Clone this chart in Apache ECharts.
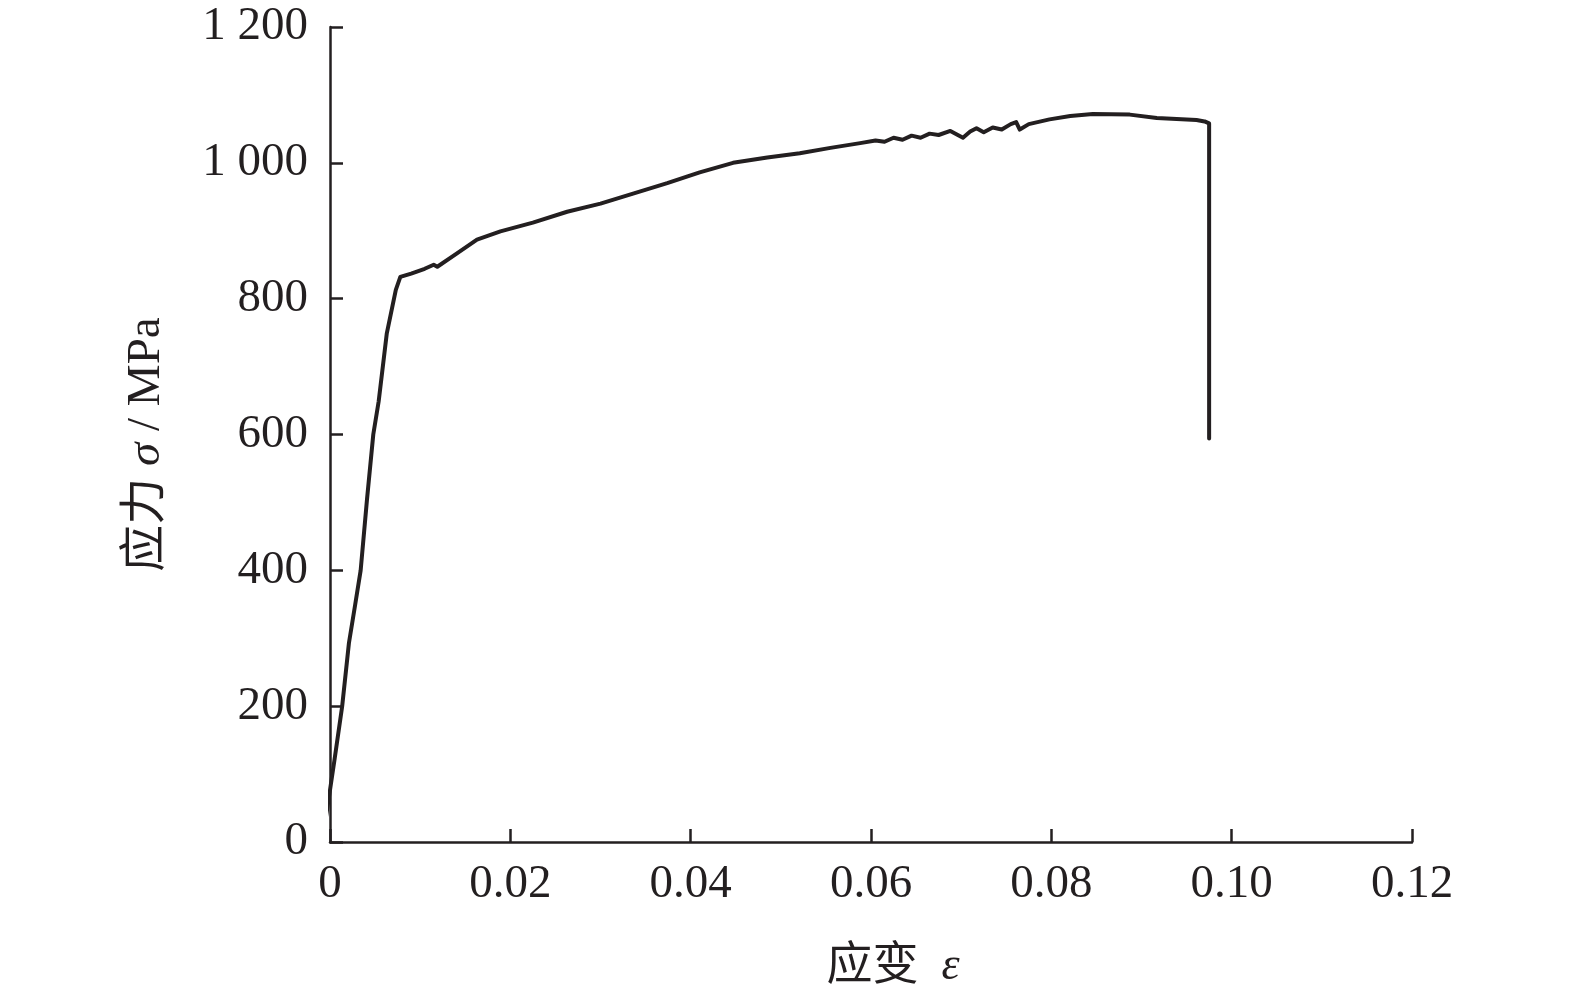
<!DOCTYPE html>
<html>
<head>
<meta charset="utf-8">
<script src="https://cdn.jsdelivr.net/npm/echarts@6/dist/echarts.min.js"></script>
<style>html,body{margin:0;padding:0;background:#fff;}#c{width:1575px;height:995px;}</style>
</head>
<body>
<div id="c"></div>
<script>
var strain = [-0.0006, -0.0005, 0.0005, 0.00135, 0.0021, 0.0028, 0.0034, 0.0041, 0.0048, 0.0054, 0.0063, 0.0073, 0.0078, 0.0090, 0.0105, 0.0115, 0.0119, 0.0140, 0.0163, 0.0189, 0.0225, 0.0263, 0.0300, 0.0337, 0.0374, 0.0410, 0.0447, 0.0485, 0.0521, 0.0555, 0.0588, 0.0605, 0.0615, 0.0625, 0.0635, 0.0645, 0.0655, 0.0665, 0.0675, 0.0688, 0.0702, 0.0710, 0.0717, 0.0725, 0.0735, 0.0745, 0.0755, 0.0761, 0.0765, 0.0775, 0.0798, 0.0821, 0.0846, 0.0887, 0.0917, 0.0961, 0.0970, 0.0975, 0.0975];
var stress = [10, 32, 121, 200, 293, 350, 400, 504, 600, 649, 749, 813, 832, 837, 844, 850, 847, 866, 887, 899, 912, 928, 940, 955, 970, 986, 1000, 1008, 1014, 1022, 1029, 1033, 1031, 1037, 1034, 1040, 1037, 1043, 1041, 1047, 1037, 1046, 1051, 1045, 1052, 1049, 1057, 1060, 1049, 1057, 1064, 1069, 1072, 1071, 1066, 1063, 1061, 1058, 594];
var xTicks = ['0', '0.02', '0.04', '0.06', '0.08', '0.10', '0.12'];
var yTicks = ['0', '200', '400', '600', '800', '1 000', '1 200'];

var points = strain.map(function (s, i) { return [s, stress[i]]; });
var ink = '#231f20';
var serif = '"Liberation Serif", "Times New Roman", "Noto Sans CJK SC", serif';

var chart = echarts.init(document.getElementById('c'));
chart.setOption({
  animation: false,
  backgroundColor: '#fff',
  grid: { left: 330, right: 163, top: 27, bottom: 153, containLabel: false },
  xAxis: {
    type: 'value', min: 0, max: 0.12, interval: 0.02,
    name: '应变  {i|ε}', nameLocation: 'middle', nameGap: 102,
    nameTextStyle: { color: ink, fontFamily: serif, fontSize: 46, padding: [0, 0, 0, 44],
      rich: { i: { fontStyle: 'italic', fontFamily: serif, fontSize: 46, color: ink } } },
    axisLine: { show: true, lineStyle: { color: ink, width: 2.5 } },
    axisTick: { show: true, inside: true, length: 13, lineStyle: { color: ink, width: 2.5 } },
    splitLine: { show: false },
    axisLabel: { color: ink, fontFamily: serif, fontSize: 47, margin: 19,
      formatter: function (v) { return xTicks[Math.round(v / 0.02)]; } }
  },
  yAxis: {
    type: 'value', min: 0, max: 1200, interval: 200,
    name: '应力 {i|σ} / MPa', nameLocation: 'middle', nameGap: 160,
    nameTextStyle: { color: ink, fontFamily: serif, fontSize: 47, padding: [0, 20, 0, 0],
      rich: { i: { fontStyle: 'italic', fontFamily: serif, fontSize: 47, color: ink } } },
    axisLine: { show: true, lineStyle: { color: ink, width: 2.5 } },
    axisTick: { show: true, inside: true, length: 13, lineStyle: { color: ink, width: 2.5 } },
    splitLine: { show: false },
    axisLabel: { color: ink, fontFamily: serif, fontSize: 47, margin: 22,
      formatter: function (v) { return yTicks[Math.round(v / 200)]; } }
  },
  series: [{
    type: 'line', data: points, showSymbol: false, symbol: 'none', clip: false,
    lineStyle: { color: ink, width: 4, join: 'round', cap: 'round' }
  }]
});
</script>
</body>
</html>
